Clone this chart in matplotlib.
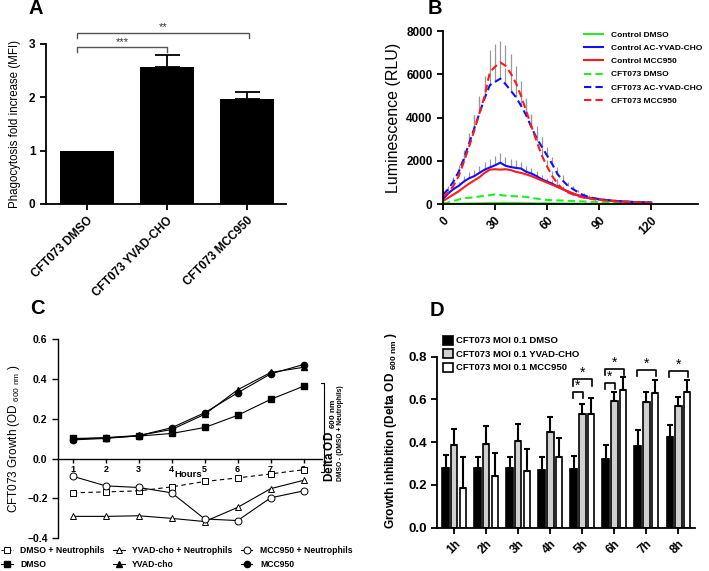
import numpy as np
import matplotlib.pyplot as plt
from matplotlib.lines import Line2D

plt.rcParams['font.family'] = 'Liberation Sans'
plt.rcParams['mathtext.fontset'] = 'custom'
plt.rcParams['mathtext.rm'] = 'Liberation Sans'
plt.rcParams['mathtext.bf'] = 'Liberation Sans:bold'
plt.rcParams['axes.linewidth'] = 1.3

# ---- panel A: phagocytosis
a_groups = ['CFT073 DMSO', 'CFT073 YVAD-CHO', 'CFT073 MCC950']
a_mean = [1.0, 2.56, 1.97]
a_err = [0.0, 0.23, 0.13]

# ---- panel B: luminescence time course (minutes)
b_time = np.arange(0, 121, 3)
ctrl_dmso = [10, 15, 20, 25, 30, 35, 40, 45, 50, 55, 60, 60, 65, 65, 60, 55, 50, 50, 45, 45,
             40, 40, 35, 35, 30, 30, 30, 25, 25, 25, 20, 20, 20, 20, 20, 15, 15, 15, 15, 15, 15]
ctrl_yvad = [250, 500, 700, 850, 1050, 1200, 1300, 1450, 1600, 1700, 1800, 1920, 1780, 1720,
             1680, 1650, 1500, 1420, 1300, 1150, 1050, 950, 820, 700, 580, 480, 400, 330, 290,
             260, 230, 200, 180, 160, 140, 130, 115, 105, 95, 90, 85]
ctrl_mcc = [150, 300, 450, 600, 780, 950, 1100, 1250, 1450, 1600, 1620, 1600, 1620, 1580,
            1500, 1450, 1380, 1300, 1200, 1100, 1000, 900, 800, 700, 600, 500, 420, 360, 300,
            260, 230, 200, 170, 150, 130, 115, 100, 90, 80, 75, 70]
cft_dmso = [30, 80, 150, 220, 280, 300, 330, 360, 400, 420, 460, 430, 400, 380, 370, 360, 340,
            300, 260, 230, 200, 190, 180, 170, 160, 150, 140, 130, 120, 110, 100, 95, 90, 85,
            80, 75, 70, 65, 60, 55, 50]
cft_yvad = [450, 700, 1050, 1500, 2100, 2800, 3500, 4200, 4900, 5500, 5650, 5800, 5550, 5250,
            4950, 4550, 4100, 3550, 3050, 2650, 2250, 1850, 1400, 1100, 850, 700, 550, 420, 340,
            280, 240, 210, 180, 160, 140, 120, 110, 100, 90, 85, 80]
cft_mcc = [350, 550, 850, 1300, 1950, 2650, 3400, 4200, 5000, 6100, 6350, 6550, 6400, 6050,
           5600, 5000, 4300, 3600, 2900, 2250, 1750, 1300, 950, 700, 550, 450, 370, 310, 270,
           230, 200, 180, 160, 140, 125, 110, 100, 90, 80, 75, 70]
cft_mcc_err = [150, 200, 250, 350, 450, 600, 700, 800, 900, 1000, 1050, 1000, 950, 900, 800,
               700, 600, 500, 400, 350, 300, 250, 200, 150, 120, 100, 80, 60, 50, 40, 30, 30,
               25, 20, 20, 20, 15, 15, 15, 10, 10]
cft_yvad_err = [100, 150, 200, 300, 400, 500, 600, 650, 700, 750, 800, 800, 750, 700, 650,
                650, 600, 600, 550, 450, 400, 350, 300, 250, 200, 150, 120, 100, 80, 60, 50,
                40, 30, 30, 25, 20, 20, 15, 15, 10, 10]
ctrl_yvad_err = [50, 100, 150, 200, 250, 280, 300, 320, 350, 380, 420, 450, 400, 380, 350,
                 300, 280, 250, 220, 200, 180, 150, 130, 110, 90, 80, 60, 50, 40, 30, 30, 25,
                 20, 20, 15, 15, 10, 10, 10, 10, 10]

# ---- panel C: growth curves
c_hours = [1, 2, 3, 4, 5, 6, 7, 8]
c_dmso = [0.101, 0.104, 0.113, 0.126, 0.156, 0.217, 0.297, 0.363]
c_yvad = [0.097, 0.105, 0.116, 0.146, 0.222, 0.345, 0.432, 0.458]
c_mcc = [0.094, 0.101, 0.115, 0.155, 0.230, 0.330, 0.425, 0.472]
c_dmso_n = [-0.172, -0.167, -0.162, -0.142, -0.115, -0.097, -0.077, -0.056]
c_yvad_n = [-0.290, -0.290, -0.287, -0.300, -0.316, -0.245, -0.151, -0.109]
c_mcc_n = [-0.089, -0.137, -0.145, -0.172, -0.303, -0.311, -0.197, -0.162]

# ---- panel D: growth inhibition
d_labels = ['1h', '2h', '3h', '4h', '5h', '6h', '7h', '8h']
d_dmso = [0.280, 0.279, 0.281, 0.272, 0.276, 0.322, 0.384, 0.424]
d_dmso_err = [0.060, 0.054, 0.049, 0.058, 0.061, 0.066, 0.071, 0.058]
d_yvad = [0.387, 0.393, 0.407, 0.449, 0.534, 0.592, 0.587, 0.568]
d_yvad_err = [0.073, 0.081, 0.077, 0.067, 0.046, 0.042, 0.047, 0.044]
d_mcc = [0.186, 0.244, 0.265, 0.332, 0.534, 0.643, 0.628, 0.636]
d_mcc_err = [0.144, 0.105, 0.101, 0.088, 0.072, 0.063, 0.065, 0.056]
# (hour, compared bar, bracket height)
d_sig = [(5, 'grey', 0.636), (5, 'white', 0.695), (6, 'grey', 0.678), (6, 'white', 0.744),
         (7, 'white', 0.740), (8, 'white', 0.735)]

W, H = 709, 571
fig = plt.figure(figsize=(7.09, 5.71), dpi=100)


def box(l, t, r, b):
    return [l / W, 1 - b / H, (r - l) / W, (b - t) / H]


def style(ax, size):
    for s in ['top', 'right']:
        ax.spines[s].set_visible(False)
    ax.tick_params(direction='out', length=4, width=1.3, labelsize=size)
    for lab in ax.get_xticklabels() + ax.get_yticklabels():
        lab.set_fontweight('bold')


# ======================= A
axA = fig.add_axes(box(46, 44, 286, 204))
xa = np.arange(len(a_groups))
axA.bar(xa, a_mean, width=0.68, color='black')
axA.errorbar(xa[1:], a_mean[1:], yerr=[[0, 0], a_err[1:]], fmt='none', ecolor='black',
             elinewidth=1.3, capsize=9, capthick=1.3)
axA.set_xlim(-0.51, 2.49)
axA.set_ylim(0, 3)
axA.set_yticks([0, 1, 2, 3])
axA.set_xticks(xa)
axA.set_xticklabels(a_groups, rotation=45, ha='right', rotation_mode='anchor')
axA.set_ylabel('Phagocytosis fold increase (MFI)', fontsize=8.3, labelpad=6)
style(axA, 8.5)
for x2, yb, ys, txt in [(1.0, 2.95, 3.03, '***'), (2.03, 3.21, 3.31, '**')]:
    axA.plot([-0.12, -0.12, x2, x2], [yb - 0.1, yb, yb, yb - 0.1], color='#555555', lw=1,
             clip_on=False)
    axA.text((x2 - 0.12) / 2, ys, txt, ha='center', va='center', fontsize=8, color='#333333')

# ======================= B
axB = fig.add_axes(box(443, 31, 698, 204.3))
green, blue, red = '#22ee22', '#1010ff', '#ff1a1a'
for mean, err in [(cft_mcc, cft_mcc_err), (cft_yvad, cft_yvad_err), (ctrl_yvad, ctrl_yvad_err)]:
    m = np.array(mean)
    axB.vlines(b_time, m, m + np.array(err), color='#999999', lw=0.9, zorder=1)
dash = (3.5, 2)
axB.plot(b_time, ctrl_dmso, color=green, lw=1.5, label='Control DMSO')
axB.plot(b_time, ctrl_yvad, color=blue, lw=1.5, label='Control AC-YVAD-CHO')
axB.plot(b_time, ctrl_mcc, color=red, lw=1.5, label='Control MCC950')
axB.plot(b_time, cft_dmso, color=green, lw=1.5, ls=(0, dash), label='CFT073 DMSO')
axB.plot(b_time, cft_yvad, color=blue, lw=1.5, ls=(0, dash), label='CFT073 AC-YVAD-CHO')
axB.plot(b_time, cft_mcc, color=red, lw=1.5, ls=(0, dash), label='CFT073 MCC950')
axB.set_xlim(0, 147)
axB.set_ylim(0, 8000)
axB.set_xticks([0, 30, 60, 90, 120])
axB.set_xticklabels(['0', '30', '60', '90', '120'], rotation=45, ha='right',
                    rotation_mode='anchor')
axB.set_yticks([0, 2000, 4000, 6000, 8000])
axB.set_ylabel('Luminescence (RLU)', fontsize=11.5, labelpad=4)
style(axB, 8.5)
axB.legend(loc='upper left', bbox_to_anchor=(0.538, 1.025), frameon=False, handlelength=2.2,
           handletextpad=1.0, labelspacing=0.65, borderpad=0,
           prop={'weight': 'bold', 'size': 6.0})

# ======================= C
axC = fig.add_axes(box(58, 339, 321.7, 538.3))
axC.plot(c_hours, c_dmso, color='black', lw=0.8, marker='s', ms=4.5, mfc='black')
axC.plot(c_hours, c_yvad, color='black', lw=0.8, marker='^', ms=4.5, mfc='black')
axC.plot(c_hours, c_mcc, color='black', lw=0.8, marker='o', ms=4.5, mfc='black')
axC.plot(c_hours, c_dmso_n, color='black', lw=0.8, ls=(0, (4, 3)), marker='s', ms=5,
         mfc='white', mew=0.7)
axC.plot(c_hours, c_yvad_n, color='black', lw=0.8, marker='^', ms=5, mfc='white', mew=0.7)
axC.plot(c_hours, c_mcc_n, color='black', lw=0.8, marker='o', ms=5, mfc='white', mew=0.7)
axC.set_xlim(0.55, 8.55)
axC.set_ylim(-0.4, 0.6)
axC.spines['bottom'].set_position(('data', 0))
axC.set_xticks(c_hours)
axC.set_yticks([-0.4, -0.2, 0.0, 0.2, 0.4, 0.6])
style(axC, 7.5)
axC.tick_params(axis='x', labelsize=6.5, length=3, width=1, pad=1.5)
axC.spines['left'].set_linewidth(1)
axC.spines['bottom'].set_linewidth(1)
axC.tick_params(axis='y', width=1)
axC.set_ylabel(r'CFT073 Growth (OD $_{\mathrm{600\ nm}}$ )', fontsize=8.5, labelpad=4)
axC.text(4.5, -0.082, 'Hours', ha='center', va='center', fontsize=6.8, fontweight='bold')
# delta bracket on the right
axC.plot([8.53, 8.62, 8.62, 8.53], [0.377, 0.377, -0.065, -0.065], color='black', lw=0.8,
         clip_on=False)
fig.text(330 / W, 1 - 440 / H, r'Delta OD $_{\mathbf{600\ nm}}$', rotation=90, ha='center',
         va='center', fontsize=8.5, fontweight='bold')
fig.text(340 / W, 1 - 433 / H, 'DMSO - (DMSO + Neutrophils)', rotation=90, ha='center',
         va='center', fontsize=4.8, fontweight='bold')
c_handles = [
    Line2D([], [], color='black', lw=0.8, ls=(0, (2, 1.5)), marker='s', ms=5, mfc='white',
           mew=0.7, label='DMSO + Neutrophils'),
    Line2D([], [], color='black', lw=0.8, marker='s', ms=4.5, label='DMSO'),
    Line2D([], [], color='black', lw=0.8, marker='^', ms=5, mfc='white', mew=0.7,
           label='YVAD-cho + Neutrophils'),
    Line2D([], [], color='black', lw=0.8, marker='^', ms=4.5, label='YVAD-cho'),
    Line2D([], [], color='black', lw=0.8, marker='o', ms=5, mfc='white', mew=0.7,
           label='MCC950 + Neutrophils'),
    Line2D([], [], color='black', lw=0.8, marker='o', ms=4.5, label='MCC950'),
]
fig.legend(handles=c_handles, ncol=3, loc='upper left', bbox_to_anchor=(0.002, 1 - 546 / H),
           frameon=False, handlelength=1.3, handletextpad=0.9, columnspacing=1.0,
           labelspacing=0.55, borderpad=0, borderaxespad=0,
           prop={'weight': 'bold', 'size': 6.2})

# ======================= D
axD = fig.add_axes(box(437.3, 356.7, 695, 527.7))
xd = np.arange(1, len(d_labels) + 1)
off, bw = 0.27, 0.2
ekw = dict(fmt='none', ecolor='black', elinewidth=1.5, capsize=2.2, capthick=1.5)
for dx, vals, errs, fc, lab in [(-off, d_dmso, d_dmso_err, 'black', 'CFT073 MOI 0.1 DMSO'),
                                (0, d_yvad, d_yvad_err, '#d0d0d0', 'CFT073 MOI 0.1 YVAD-CHO'),
                                (off, d_mcc, d_mcc_err, 'white', 'CFT073 MOI 0.1 MCC950')]:
    axD.bar(xd + dx, vals, width=bw, color=fc, edgecolor='black', lw=1.2, label=lab)
    axD.errorbar(xd + dx, vals, yerr=[np.zeros(len(vals)), errs], **ekw)
for hr, kind, yb in d_sig:
    x1 = hr - off - 0.02
    x2 = hr + 0.02 if kind == 'grey' else hr + off + 0.04
    axD.plot([x1, x1, x2, x2], [yb - 0.03, yb, yb, yb - 0.03], color='black', lw=1.2,
             clip_on=False)
    axD.text((x1 + x2) / 2, yb - 0.005, '*', ha='center', va='bottom', fontsize=10)
axD.set_xlim(0.47, 8.52)
axD.set_ylim(0, 0.8)
axD.set_xticks(xd)
axD.set_xticklabels(d_labels, rotation=45, ha='right', rotation_mode='anchor')
axD.set_yticks([0.0, 0.2, 0.4, 0.6, 0.8])
axD.set_yticklabels(['0.0', '0.2', '0.4', '0.6', '0.8'])
axD.set_ylabel(r'Growth inhibition (Delta OD $_{\mathbf{600\ nm}}$ )', fontsize=8.6,
               fontweight='bold')
axD.yaxis.set_label_coords(-0.15, 0.57)
style(axD, 9.5)
axD.tick_params(axis='x', labelsize=8.5)
for lab in axD.get_xticklabels():
    lab.set_fontweight('bold')
axD.legend(loc='upper left', bbox_to_anchor=(442.7 / W, 1 - 335.7 / H),
           bbox_transform=fig.transFigure, frameon=False, handlelength=1.1, handleheight=1.1,
           handletextpad=0.35, labelspacing=0.4, borderpad=0, borderaxespad=0,
           prop={'weight': 'bold', 'size': 6.8})

# panel letters
for x, y, letter in [(36, 9, 'A'), (435, 9, 'B'), (37, 309, 'C'), (437, 310, 'D')]:
    fig.text(x / W, 1 - y / H, letter, ha='center', va='center', fontsize=14.5,
             fontweight='bold')

fig.savefig('out.png', dpi=100)
